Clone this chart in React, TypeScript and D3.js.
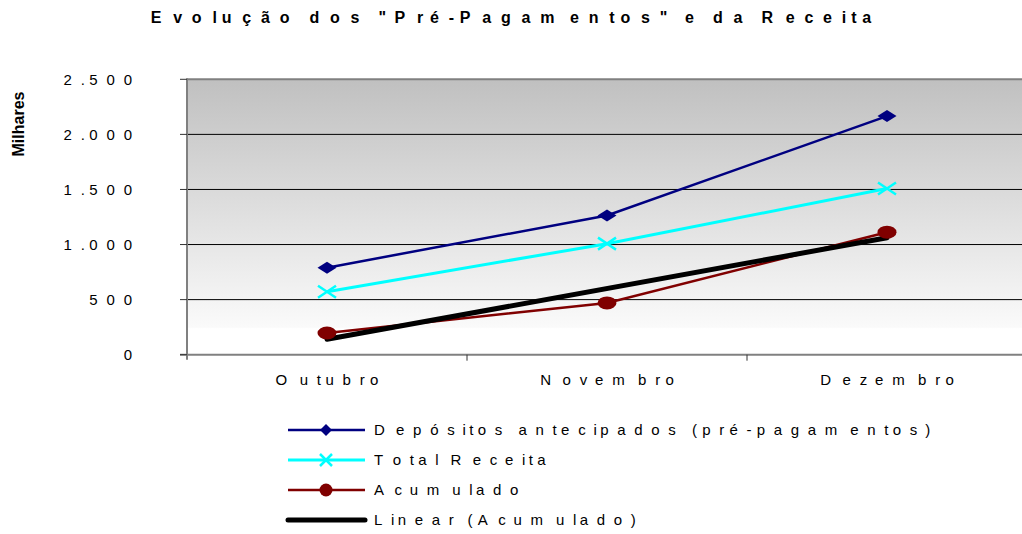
import React from 'react';
import * as d3 from 'd3';

const categories = ['Outubro', 'Novembro', 'Dezembro'];
const depositos = [790, 1264, 2166];
const totalReceita = [572, 1008, 1508];
const acumulado = [197, 470, 1112];
// trend line as drawn in the picture (first and last month)
const linearMonths = ['Outubro', 'Dezembro'];
const linearAcumulado = [140, 1062];
const yTicks = [0, 500, 1000, 1500, 2000, 2500];
const yTickLabels = ['0', '500', '1.000', '1.500', '2.000', '2.500'];
const legendLabels = [
  'Depósitos antecipados (pré-pagamentos)',
  'Total Receita',
  'Acumulado',
  'Linear (Acumulado)',
];
const seriesColors = ['#000080', '#00ffff', '#800000', '#000000'];

const W = 1022;
const H = 534;
const FAMILY = '"Liberation Sans", Arial, sans-serif';
// the old chart spreads its glyphs: each one sits ~2x its advance from the previous
const SPREAD = 2.06;

const x = d3.scaleBand<string>().domain(categories).range([187, 1027]);
const y = d3.scaleLinear().domain([0, 2500]).range([354.7, 79.3]);
const cx = (c: string) => (x(c) as number) + x.bandwidth() / 2;

const line = d3
  .line<[string, number]>()
  .x((d) => cx(d[0]))
  .y((d) => y(d[1]));

const zip = (vals: number[], cats = categories) =>
  vals.map((v, i) => [cats[i], v] as [string, number]);

let measureCtx: CanvasRenderingContext2D | null = null;
function spaced(str: string, size: number, weight: string, spread: number) {
  if (!measureCtx) measureCtx = document.createElement('canvas').getContext('2d');
  const ctx = measureCtx as CanvasRenderingContext2D;
  ctx.font = `${weight} ${size}px "Liberation Sans", Arial, sans-serif`;
  const chars = Array.from(str);
  const xs: number[] = [];
  let acc = 0;
  chars.forEach((ch) => {
    xs.push(acc * spread);
    acc += ctx.measureText(ch).width;
  });
  const last = ctx.measureText(chars[chars.length - 1]).width;
  return { xs, span: xs[xs.length - 1] + last };
}

function SpacedText({ text, px, py, size, weight = 'normal', anchor = 'start', spread = SPREAD }: any) {
  const { xs, span } = spaced(text, size, weight, spread);
  const x0 = anchor === 'middle' ? px - span / 2 : anchor === 'end' ? px - span : px;
  return (
    <text
      x={xs.map((v) => (x0 + v).toFixed(2)).join(' ')}
      y={py}
      fontSize={size}
      fontWeight={weight}
      fill="#000"
    >
      {text}
    </text>
  );
}

function Diamond({ px, py, w, h, color }: any) {
  return (
    <path
      d={`M${px - w / 2},${py}L${px},${py - h / 2}L${px + w / 2},${py}L${px},${py + h / 2}Z`}
      fill={color}
    />
  );
}

function Cross({ px, py, w, h, color }: any) {
  return (
    <path
      d={`M${px - w / 2},${py - h / 2}L${px + w / 2},${py + h / 2}M${px - w / 2},${py + h / 2}L${px + w / 2},${py - h / 2}`}
      stroke={color}
      strokeWidth={2.5}
      fill="none"
    />
  );
}

export default function App() {
  const legendY = [430, 460, 490, 520];
  const plotTop = y(2500);
  const plotBottom = y(0);
  return (
    <svg
      width={W}
      height={H}
      style={{ position: 'absolute', left: 0, top: 0, background: '#fff' }}
      fontFamily={FAMILY}
    >
      <defs>
        <linearGradient id="bg" x1="0" y1="0" x2="0" y2="1">
          <stop offset="0" stopColor="#c0c0c0" />
          <stop offset="0.9" stopColor="#fafafa" />
          <stop offset="0.905" stopColor="#ffffff" />
          <stop offset="1" stopColor="#ffffff" />
        </linearGradient>
      </defs>

      <SpacedText
        text={'Evolução dos "Pré-Pagamentos" e da Receita'}
        px={511}
        py={23.3}
        size={16}
        weight="bold"
        anchor="middle"
        spread={2.1}
      />

      <text
        transform="translate(23.5,124) rotate(-90)"
        textAnchor="middle"
        fontSize={16}
        fontWeight="bold"
      >
        Milhares
      </text>

      <rect x={187} y={plotTop} width={W - 187} height={plotBottom - plotTop} fill="url(#bg)" />

      {yTicks.slice(1, -1).map((t) => (
        <line key={t} x1={187} x2={W} y1={y(t)} y2={y(t)} stroke="#000" />
      ))}
      <line x1={187} x2={W} y1={plotTop} y2={plotTop} stroke="#808080" strokeWidth={2} />
      <line x1={187} x2={187} y1={plotTop - 1} y2={plotBottom + 5} stroke="#808080" strokeWidth={2} />
      <line x1={180} x2={W} y1={plotBottom} y2={plotBottom} stroke="#808080" strokeWidth={2} />

      {yTicks.map((t, i) => (
        <g key={t}>
          <line x1={180} x2={187} y1={y(t)} y2={y(t)} stroke="#333" />
          <SpacedText text={yTickLabels[i]} px={132} py={y(t) + 5.5} size={15} anchor="end" />
        </g>
      ))}

      {categories.map((c) => (
        <g key={c}>
          <line
            x1={(x(c) as number) + x.bandwidth()}
            x2={(x(c) as number) + x.bandwidth()}
            y1={plotBottom}
            y2={plotBottom + 6}
            stroke="#333"
          />
          <SpacedText text={c} px={cx(c)} py={385} size={15} anchor="middle" />
        </g>
      ))}

      <path d={line(zip(depositos)) as string} stroke={seriesColors[0]} strokeWidth={2.5} fill="none" />
      <path d={line(zip(totalReceita)) as string} stroke={seriesColors[1]} strokeWidth={3} fill="none" />
      <path d={line(zip(acumulado)) as string} stroke={seriesColors[2]} strokeWidth={2.5} fill="none" />
      <path
        d={line(zip(linearAcumulado, linearMonths)) as string}
        stroke={seriesColors[3]}
        strokeWidth={5}
        strokeLinecap="round"
        fill="none"
      />

      {categories.map((c, i) => (
        <g key={c}>
          <Diamond px={cx(c)} py={y(depositos[i])} w={19} h={12} color={seriesColors[0]} />
          <Cross px={cx(c)} py={y(totalReceita[i])} w={18} h={12} color={seriesColors[1]} />
          <ellipse cx={cx(c)} cy={y(acumulado[i])} rx={9.5} ry={6.5} fill={seriesColors[2]} />
        </g>
      ))}

      {legendLabels.map((lab, i) => {
        const ly = legendY[i];
        return (
          <g key={lab}>
            <line
              x1={288}
              x2={365}
              y1={ly}
              y2={ly}
              stroke={seriesColors[i]}
              strokeWidth={i === 3 ? 5 : i === 1 ? 3 : 2.5}
              strokeLinecap={i === 3 ? 'round' : 'butt'}
            />
            {i === 0 && <Diamond px={326} py={ly} w={12} h={12} color={seriesColors[0]} />}
            {i === 1 && <Cross px={326} py={ly} w={12} h={12} color={seriesColors[1]} />}
            {i === 2 && <circle cx={326} cy={ly} r={6.5} fill={seriesColors[2]} />}
            <SpacedText text={lab} px={374} py={ly + 5.3} size={15} spread={2.04} />
          </g>
        );
      })}
    </svg>
  );
}
